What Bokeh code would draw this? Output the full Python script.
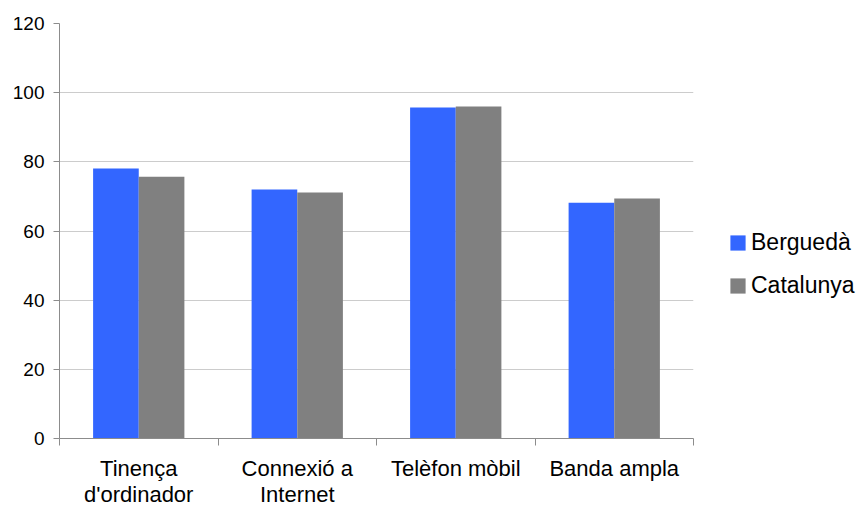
import numpy as np
from bokeh.plotting import figure
from bokeh.models import Range1d, FixedTicker, Legend, LegendItem
from bokeh.embed import file_html
from bokeh.resources import INLINE

categories = ["Tinença\nd'ordinador", "Connexió a\nInternet", "Telèfon mòbil", "Banda ampla"]
series_names = ["Berguedà", "Catalunya"]
bergueda = [78.1, 72.0, 95.7, 68.2]
catalunya = [75.7, 71.1, 96.0, 69.4]
y_ticks = [0, 20, 40, 60, 80, 100, 120]

FONT = "Liberation Sans"
BLUE = "#3366ff"
GRAY = "#808080"
AXIS = "#8c8c8c"

idx = np.arange(len(categories))
centers = idx + 0.5
bw = 0.288

p = figure(frame_width=634, frame_height=415, x_range=Range1d(0, len(categories)), y_range=Range1d(0, 120),
           output_backend="svg", toolbar_location=None,
           min_border_left=59, min_border_right=166, min_border_top=23, min_border_bottom=0)

r1 = p.vbar(x=centers - bw / 2, top=bergueda, width=bw, fill_color=BLUE, line_color=None)
r2 = p.vbar(x=centers + bw / 2, top=catalunya, width=bw, fill_color=GRAY, line_color=None)

# x axis
p.xaxis.ticker = FixedTicker(ticks=list(centers), minor_ticks=list(range(len(categories) + 1)))
p.xaxis.major_label_overrides = {float(c): lab for c, lab in zip(centers, categories)}
p.xaxis.major_tick_out = 0
p.xaxis.major_tick_in = 0
p.xaxis.minor_tick_out = 7
p.xaxis.minor_tick_in = 0
p.xaxis.minor_tick_line_color = AXIS
p.xaxis.axis_line_color = AXIS
p.xaxis.major_label_text_font = FONT
p.xaxis.major_label_text_font_size = "22px"
p.xaxis.major_label_text_color = "#000000"
p.xaxis.major_label_standoff = 10
p.xaxis.major_label_text_line_height = 1.05

# y axis
p.yaxis.ticker = FixedTicker(ticks=y_ticks, minor_ticks=[])
p.yaxis.major_tick_out = 6
p.yaxis.major_tick_in = 0
p.yaxis.minor_tick_out = 0
p.yaxis.minor_tick_in = 0
p.yaxis.major_tick_line_color = AXIS
p.yaxis.axis_line_color = AXIS
p.yaxis.major_label_text_font = FONT
p.yaxis.major_label_text_font_size = "19px"
p.yaxis.major_label_text_color = "#000000"
p.yaxis.major_label_standoff = 9

p.xgrid.visible = False
p.ygrid.ticker = FixedTicker(ticks=y_ticks, minor_ticks=[])
p.ygrid.grid_line_color = "#cccccc"
p.outline_line_color = None

legend = Legend(items=[LegendItem(label=series_names[0], renderers=[r1]),
                       LegendItem(label=series_names[1], renderers=[r2])],
                location=(25, 129), glyph_width=19, glyph_height=19,
                label_text_font=FONT, label_text_font_size="23px", label_text_color="#000000",
                spacing=16, padding=10, label_standoff=4, margin=0,
                border_line_alpha=0, background_fill_alpha=0)
p.add_layout(legend, "right")

open("out.html", "w").write(file_html(p, INLINE))
